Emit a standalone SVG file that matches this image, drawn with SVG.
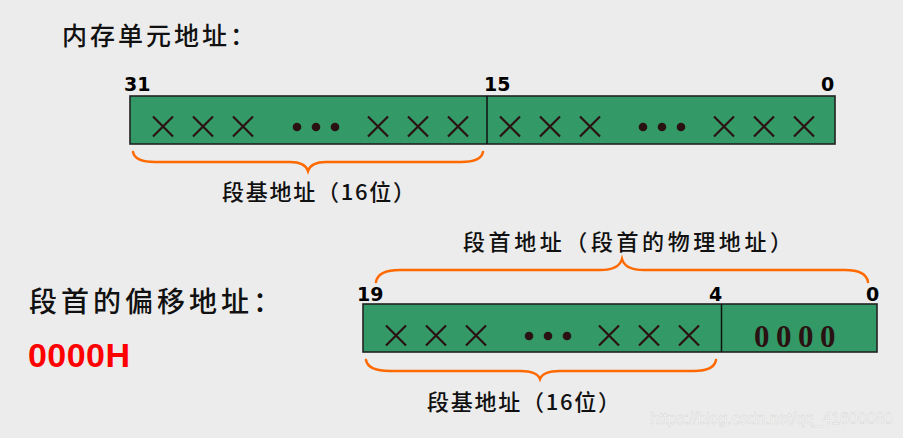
<svg xmlns="http://www.w3.org/2000/svg" width="903" height="438" viewBox="0 0 903 438">
<style>
.cjk{font-family:"Noto Sans CJK SC","Noto Sans",sans-serif;fill:#111;font-weight:500}
.bit{font-family:"DejaVu Sans",Verdana,sans-serif;font-weight:bold;font-size:19px;fill:#000}
.reg{fill:#339966;stroke:#222;stroke-width:1.6}
.x{stroke:#2a1212;stroke-width:2.2;fill:none}
.dot{fill:#2a1212}
.brace{fill:none;stroke:#ff6a00;stroke-width:2.5;stroke-linecap:round}
</style>
<defs>
<path id="cross" class="x" d="M-10,-10 L10,10 M10,-10 L-10,10"/>
</defs>
<rect width="903" height="438" fill="#ececec"/>

<text class="cjk" x="62" y="45" font-size="25" letter-spacing="3">内存单元地址：</text>

<g id="reg32">
<rect class="reg" x="130" y="96" width="705" height="48"/>
<line x1="487" y1="96" x2="487" y2="144" stroke="#111" stroke-width="1.5"/>
<text class="bit" x="124" y="91">31</text>
<text class="bit" x="484" y="91">15</text>
<text class="bit" x="821" y="91">0</text>
<use href="#cross" x="163" y="126.5"/><use href="#cross" x="203" y="126.5"/><use href="#cross" x="243" y="126.5"/>
<circle class="dot" cx="297" cy="127" r="4.3"/><circle class="dot" cx="316" cy="127" r="4.3"/><circle class="dot" cx="335" cy="127" r="4.3"/>
<use href="#cross" x="378" y="126.5"/><use href="#cross" x="418" y="126.5"/><use href="#cross" x="458" y="126.5"/>
<use href="#cross" x="510" y="126.5"/><use href="#cross" x="550" y="126.5"/><use href="#cross" x="590" y="126.5"/>
<circle class="dot" cx="643" cy="127" r="4.3"/><circle class="dot" cx="662" cy="127" r="4.3"/><circle class="dot" cx="681" cy="127" r="4.3"/>
<use href="#cross" x="724" y="126.5"/><use href="#cross" x="764" y="126.5"/><use href="#cross" x="804" y="126.5"/>
</g>

<g id="braces">
<path class="brace" d="M133,152 Q135,162 155,162 L290,162 Q305,162 308,171 Q311,162 326,162 L461,162 Q481,162 483,152"/>
<path class="brace" d="M376,282 Q378,270 400,270 L600,270 Q619,270 622,259 Q625,270 644,270 L845,270 Q866,270 868,282"/>
<path class="brace" d="M366,360 Q368,371 390,371 L520,371 Q537,371 540,379 Q543,371 560,371 L694,371 Q714,371 716,360"/>
</g>

<text class="cjk" x="222" y="200" font-size="22" textLength="193">段基地址（16位）</text>

<text class="cjk" x="29" y="312" font-size="28" letter-spacing="4">段首的偏移地址：</text>
<text x="28" y="367" font-family="Liberation Sans,Arial,sans-serif" font-weight="bold" font-size="34" fill="#ff0000" textLength="102">0000H</text>

<text class="cjk" x="463" y="250" font-size="22" textLength="329">段首地址（段首的物理地址）</text>

<g id="reg20">
<rect class="reg" x="363" y="304" width="514" height="48"/>
<line x1="721.5" y1="304" x2="721.5" y2="352" stroke="#111" stroke-width="1.5"/>
<text class="bit" x="357" y="301">19</text>
<text class="bit" x="709" y="301">4</text>
<text class="bit" x="866" y="301">0</text>
<use href="#cross" x="396" y="335.5"/><use href="#cross" x="436" y="335.5"/><use href="#cross" x="476" y="335.5"/>
<circle class="dot" cx="529" cy="336" r="4.3"/><circle class="dot" cx="548" cy="336" r="4.3"/><circle class="dot" cx="567" cy="336" r="4.3"/>
<use href="#cross" x="609" y="335.5"/><use href="#cross" x="649" y="335.5"/><use href="#cross" x="689" y="335.5"/>
<text x="754" y="347" font-family="Liberation Serif,serif" font-weight="bold" font-size="31" fill="#2a1212" letter-spacing="6.5">0000</text>
</g>

<text class="cjk" x="427" y="410" font-size="22" textLength="193">段基地址（16位）</text>

<text x="650" y="424" font-family="Liberation Sans,Arial,sans-serif" font-size="16" fill="#fafafa" stroke="#d0d0d0" stroke-width="0.4" textLength="243">https://blog.csdn.net/qq_41600080</text>
</svg>
